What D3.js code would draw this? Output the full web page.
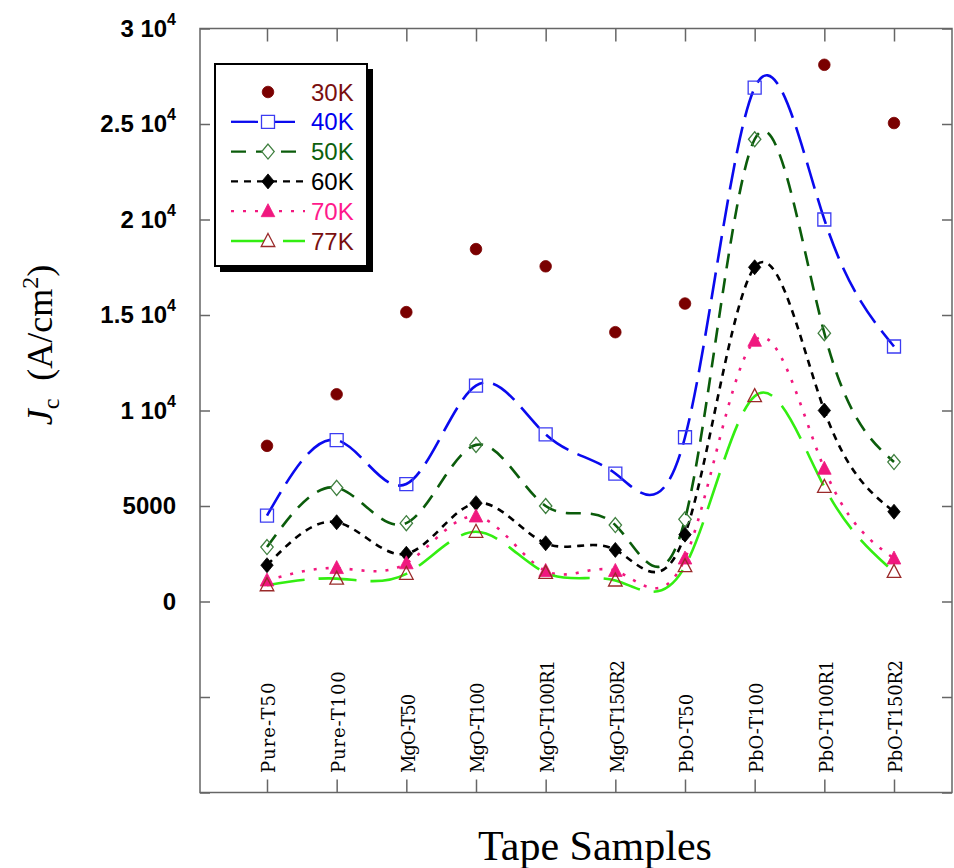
<!DOCTYPE html>
<html>
<head>
<meta charset="utf-8">
<script src="https://cdn.jsdelivr.net/npm/d3@7"></script>
<style>
  body { margin: 0; background: #fff; }
</style>
</head>
<body>
<div id="chart"></div>
<script>
// data (Jc in A/cm2)
const samples = ["Pure-T50", "Pure-T100", "MgO-T50", "MgO-T100", "MgO-T100R1", "MgO-T150R2",
                 "PbO-T50", "PbO-T100", "PbO-T100R1", "PbO-T150R2"];
const jc30K = [8150, 10850, 15150, 18450, 17550, 14100, 15600, null, 28100, 25050];
const jc40K = [4500, 8450, 6150, 11300, 8750, 6700, 8600, 26900, 20000, 13350];
const jc50K = [2850, 5950, 4100, 8200, 5000, 4000, 4300, 24200, 14050, 7300];
const jc60K = [1900, 4150, 2500, 5150, 3050, 2700, 3500, 17500, 10000, 4700];
const jc70K = [1100, 1750, 2000, 4450, 1600, 1600, 2250, 13650, 6950, 2250];
const jc77K = [850, 1200, 1450, 3650, 1500, 1100, 1850, 10750, 6000, 1550];
const seriesNames = ["30K", "40K", "50K", "60K", "70K", "77K"];
const yTicks = [-10000, -5000, 0, 5000, 10000, 15000, 20000, 25000, 30000];
const yTickMant = {0: "0", 5000: "5000", 10000: "1", 15000: "1.5", 20000: "2", 25000: "2.5", 30000: "3"};

// chart variables
const width = 954, height = 868;
const frame = {left: 200, right: 952, top: 28.5, bottom: 792.5};

const svg = d3.select("#chart").append("svg")
    .attr("width", width)
    .attr("height", height);

const x = d3.scalePoint()
    .domain(samples)
    .range([267, 894]);

const y = d3.scaleLinear()
    .domain([-10000, 30000])
    .range([frame.bottom, frame.top]);

// styles per series
const styles = {
  "30K": {line: null, dash: null, marker: "circle", mcol: "#7a0000", fill: true, tcol: "#7a0f0f"},
  "40K": {line: "#0a0aee", dash: "27,10", marker: "square", mcol: "#3c3cf2", fill: false, tcol: "#0000ee"},
  "50K": {line: "#0b5c0b", dash: "15,10", marker: "diamond", mcol: "#3f7f3f", fill: false, tcol: "#0d5f0d"},
  "60K": {line: "#000000", dash: "7,6", marker: "diamond", mcol: "#000000", fill: true, tcol: "#000000"},
  "70K": {line: "#f2187f", dash: "3,9", marker: "triangle", mcol: "#f0187f", fill: true, tcol: "#ff1a8c"},
  "77K": {line: "#33ee11", dash: "38,14", marker: "triangle", mcol: "#9a2a2a", fill: false, tcol: "#7a1010"}
};

const allSeries = [jc30K, jc40K, jc50K, jc60K, jc70K, jc77K].map((vals, k) => ({
  name: seriesNames[k],
  points: vals.map((v, i) => ({s: samples[i], v: v})).filter(d => d.v != null)
}));

function markerPath(type) {
  if (type == "circle") return "M5.8,0A5.8,5.8 0 1,1 -5.8,0A5.8,5.8 0 1,1 5.8,0Z";
  if (type == "square") return "M-6.5,-6.5H6.5V6.5H-6.5Z";
  if (type == "diamond") return "M0,-7.5L6.2,0L0,7.5L-6.2,0Z";
  if (type == "triangle") return "M0,-7.5L6.8,5.5L-6.8,5.5Z";
}

// frame
svg.append("rect")
    .attr("x", frame.left).attr("y", frame.top)
    .attr("width", frame.right - frame.left)
    .attr("height", frame.bottom - frame.top)
    .attr("fill", "none")
    .attr("stroke", "#666")
    .attr("stroke-width", 1.5);

// y axis (left, ticks inside)
const yAxis = svg.append("g")
    .attr("transform", `translate(${frame.left},0)`)
    .call(d3.axisLeft(y).tickValues(yTicks).tickSize(-10).tickPadding(24).tickFormat(""));
yAxis.select(".domain").remove();
yAxis.selectAll(".tick line").attr("stroke", "#666").attr("stroke-width", 1.5);
yAxis.selectAll(".tick text").each(function(d) {
  const t = d3.select(this);
  const m = yTickMant[d];
  if (m === undefined) return;
  t.attr("font-family", "'Liberation Sans', Arial, sans-serif")
   .attr("font-weight", "bold")
   .attr("font-size", 24)
   .attr("fill", "#000");
  if (d < 10000) {
    t.text(m);
  } else {
    t.append("tspan").text(m + " 10");
    t.append("tspan").attr("font-size", 16).attr("dy", "-0.75em").text("4");
  }
});

// right ticks
const yAxisR = svg.append("g")
    .attr("transform", `translate(${frame.right},0)`)
    .call(d3.axisRight(y).tickValues(yTicks).tickSize(-10).tickFormat(""));
yAxisR.select(".domain").remove();
yAxisR.selectAll(".tick line").attr("stroke", "#666").attr("stroke-width", 1.5);

// x ticks top and bottom
const xTop = svg.append("g")
    .attr("transform", `translate(0,${frame.top})`)
    .call(d3.axisTop(x).tickSize(-13).tickFormat(""));
xTop.select(".domain").remove();
xTop.selectAll(".tick line").attr("stroke", "#666").attr("stroke-width", 1.5);

const xBot = svg.append("g")
    .attr("transform", `translate(0,${frame.bottom})`)
    .call(d3.axisBottom(x).tickSize(-13).tickFormat(""));
xBot.select(".domain").remove();
xBot.selectAll(".tick line").attr("stroke", "#666").attr("stroke-width", 1.5);

// sample names, rotated, inside the frame (serif, evenly spaced like a typewriter face)
svg.append("g")
  .selectAll("text")
  .data(samples)
  .join("text")
    .attr("transform", d => `translate(${x(d) + 2},773) rotate(-90)`)
    .attr("dy", "0.36em")
    .attr("text-anchor", "start")
    .attr("font-family", "'DejaVu Serif', serif")
    .attr("font-size", 18)
    .attr("textLength", d => d.length * 11.3)
    .attr("lengthAdjust", "spacing")
    .attr("fill", "#000")
    .text(d => d);

// lines
const line = d3.line()
    .x(d => x(d.s))
    .y(d => y(d.v))
    .curve(d3.curveNatural);

const lineG = svg.append("g");
allSeries.filter(s => styles[s.name].line).forEach(s => {
  const st = styles[s.name];
  lineG.append("path")
      .datum(s.points)
      .attr("fill", "none")
      .attr("stroke", st.line)
      .attr("stroke-width", 2.6)
      .attr("stroke-dasharray", st.dash)
      .attr("d", line);
});

// markers
const markG = svg.append("g");
allSeries.forEach(s => {
  const st = styles[s.name];
  markG.append("g")
    .selectAll("path")
    .data(s.points)
    .join("path")
      .attr("transform", d => `translate(${x(d.s)},${y(d.v)})`)
      .attr("d", markerPath(st.marker))
      .attr("fill", st.fill ? st.mcol : "none")
      .attr("stroke", st.mcol)
      .attr("stroke-width", st.fill ? 0.8 : 1.3);
});

// legend
const leg = svg.append("g");
leg.append("rect")
    .attr("x", 220).attr("y", 69).attr("width", 153).attr("height", 203)
    .attr("fill", "#000");
leg.append("rect")
    .attr("x", 215).attr("y", 64).attr("width", 152).attr("height", 202)
    .attr("fill", "#fff").attr("stroke", "#000").attr("stroke-width", 2);

seriesNames.forEach((name, k) => {
  const st = styles[name];
  const cy = 92 + k * 29.8;
  if (st.line) {
    leg.append("line")
        .attr("x1", 231).attr("x2", 305)
        .attr("y1", cy).attr("y2", cy)
        .attr("stroke", st.line)
        .attr("stroke-width", 2.3)
        .attr("stroke-dasharray", st.dash);
  }
  leg.append("path")
      .attr("transform", `translate(268,${cy})`)
      .attr("d", markerPath(st.marker))
      .attr("fill", st.fill ? st.mcol : "#fff")
      .attr("stroke", st.mcol)
      .attr("stroke-width", st.fill ? 0.8 : 1.3);
  leg.append("text")
      .attr("x", 311).attr("y", cy)
      .attr("dy", "0.36em")
      .attr("font-family", "'Liberation Sans', Arial, sans-serif")
      .attr("font-size", 24)
      .attr("fill", st.tcol)
      .text(name);
});

// axis titles
svg.append("text")
    .attr("x", 595).attr("y", 860)
    .attr("text-anchor", "middle")
    .attr("font-family", "'Liberation Serif', 'Times New Roman', serif")
    .attr("font-size", 42)
    .attr("fill", "#000")
    .text("Tape Samples");

const yt = svg.append("text")
    .attr("transform", "translate(52,345) rotate(-90)")
    .attr("text-anchor", "middle")
    .attr("font-family", "'Liberation Serif', 'Times New Roman', serif")
    .attr("font-size", 36)
    .attr("fill", "#000");
yt.append("tspan").attr("font-style", "italic").text("J");
yt.append("tspan").attr("font-size", 24).attr("dy", "0.3em").text("c");
yt.append("tspan").attr("dy", "-0.2em").text("\u00a0 (A/cm");
yt.append("tspan").attr("font-size", 24).attr("dy", "-0.6em").text("2");
yt.append("tspan").attr("dy", "0.41em").text(")");
</script>
</body>
</html>
